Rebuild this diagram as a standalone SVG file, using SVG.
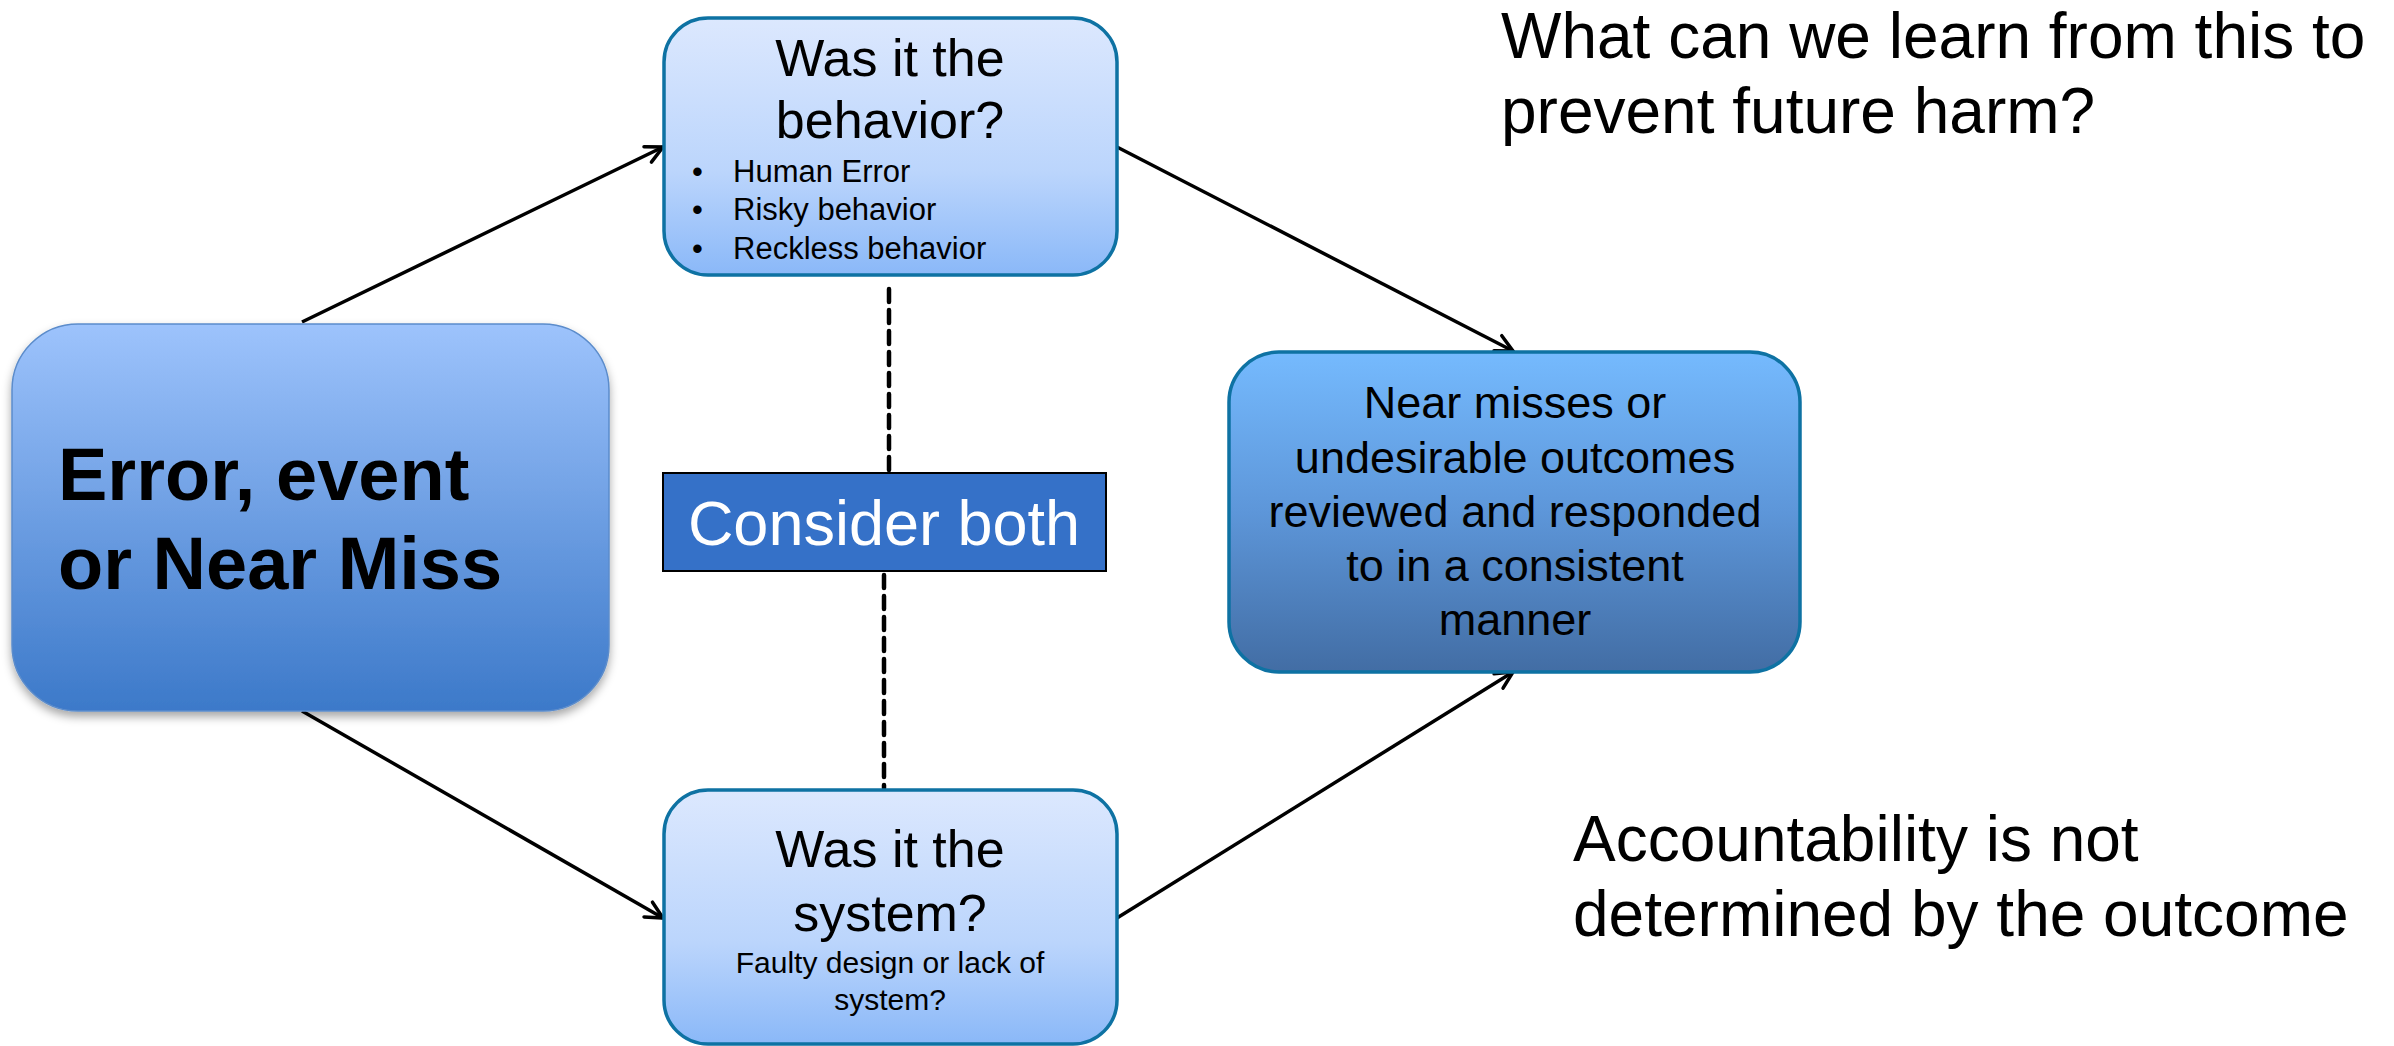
<svg xmlns="http://www.w3.org/2000/svg" width="2394" height="1046" viewBox="0 0 2394 1046">
<defs>
<linearGradient id="gLeft" x1="0" y1="0" x2="0" y2="1">
<stop offset="0" stop-color="#9DC3FC"/><stop offset="1" stop-color="#3C79C9"/>
</linearGradient>
<linearGradient id="gLight" x1="0" y1="0" x2="0" y2="1">
<stop offset="0" stop-color="#DCE8FE"/><stop offset="0.6" stop-color="#BBD5FC"/><stop offset="1" stop-color="#8AB8F8"/>
</linearGradient>
<linearGradient id="gRight" x1="0" y1="0" x2="0" y2="1">
<stop offset="0" stop-color="#75BAFE"/><stop offset="0.5" stop-color="#5D96D9"/><stop offset="1" stop-color="#426DA4"/>
</linearGradient>
<filter id="shadow" x="-10%" y="-10%" width="120%" height="125%">
<feDropShadow dx="0" dy="5" stdDeviation="5" flood-color="#000" flood-opacity="0.35"/>
</filter>
<marker id="arrow" markerUnits="userSpaceOnUse" markerWidth="24" markerHeight="24" viewBox="0 0 24 24" refX="21" refY="12" orient="auto">
<path d="M4,3.5 L21,12 L4,20.5" fill="none" stroke="#000" stroke-width="3.5" stroke-linecap="round" stroke-linejoin="miter"/>
</marker>
<style>
text{font-family:"Liberation Sans",Arial,sans-serif;fill:#000}
.box{stroke:#0E72A3;stroke-width:3.5}
.conn{stroke:#000;stroke-width:3.5;fill:none}
.dash{stroke:#000;stroke-width:4.5;stroke-dasharray:13 8;stroke-linecap:round;fill:none}
.big{font-size:52px;text-anchor:middle}
.sm{font-size:31px}
.mid{font-size:45px;text-anchor:middle}
.note{font-size:64px}
</style>
</defs>
<rect width="2394" height="1046" fill="#fff"/>

<g id="connectors">
<line class="conn" x1="302" y1="322" x2="663" y2="147" marker-end="url(#arrow)"/>
<line class="conn" x1="302" y1="711" x2="663" y2="918" marker-end="url(#arrow)"/>
<line class="conn" x1="1117" y1="147" x2="1513" y2="351" marker-end="url(#arrow)"/>
<line class="conn" x1="1117" y1="918" x2="1513" y2="672" marker-end="url(#arrow)"/>
<line class="dash" x1="889" y1="289" x2="889" y2="470"/>
<line class="dash" x1="884" y1="575" x2="884" y2="788"/>
</g>

<g id="node-error">
<rect x="12" y="324" width="597" height="387" rx="66" ry="66" fill="url(#gLeft)" stroke="#5B8CCB" stroke-width="1.5" filter="url(#shadow)"/>
<text x="58" y="500" font-size="74" font-weight="bold">Error, event</text>
<text x="58" y="589" font-size="74" font-weight="bold">or Near Miss</text>
</g>

<g id="node-behavior">
<rect class="box" x="664" y="18" width="453" height="257" rx="44" ry="44" fill="url(#gLight)"/>
<text class="big" x="890" y="76">Was it the</text>
<text class="big" x="890" y="138">behavior?</text>
<text class="sm" x="692" y="182">•</text>
<text class="sm" x="733" y="182">Human Error</text>
<text class="sm" x="692" y="220">•</text>
<text class="sm" x="733" y="220">Risky behavior</text>
<text class="sm" x="692" y="259">•</text>
<text class="sm" x="733" y="259">Reckless behavior</text>
</g>

<g id="node-consider">
<rect x="663" y="473" width="443" height="98" fill="#3571C8" stroke="#000" stroke-width="2"/>
<text x="884" y="545" font-size="63" text-anchor="middle" style="fill:#fff">Consider both</text>
</g>

<g id="node-system">
<rect class="box" x="664" y="790" width="453" height="254" rx="44" ry="44" fill="url(#gLight)"/>
<text class="big" x="890" y="867">Was it the</text>
<text class="big" x="890" y="931">system?</text>
<text x="890" y="973" font-size="30" text-anchor="middle">Faulty design or lack of</text>
<text x="890" y="1010" font-size="30" text-anchor="middle">system?</text>
</g>

<g id="node-outcome">
<rect class="box" x="1229" y="352" width="571" height="320" rx="50" ry="50" fill="url(#gRight)"/>
<text class="mid" x="1515" y="418">Near misses or</text>
<text class="mid" x="1515" y="473">undesirable outcomes</text>
<text class="mid" x="1515" y="527">reviewed and responded</text>
<text class="mid" x="1515" y="581">to in a consistent</text>
<text class="mid" x="1515" y="635">manner</text>
</g>

<g id="note-learn">
<text class="note" x="1501" y="58">What can we learn from this to</text>
<text class="note" x="1501" y="133">prevent future harm?</text>
</g>

<g id="note-accountability">
<text class="note" x="1573" y="861">Accountability is not</text>
<text class="note" x="1573" y="936">determined by the outcome</text>
</g>
</svg>
